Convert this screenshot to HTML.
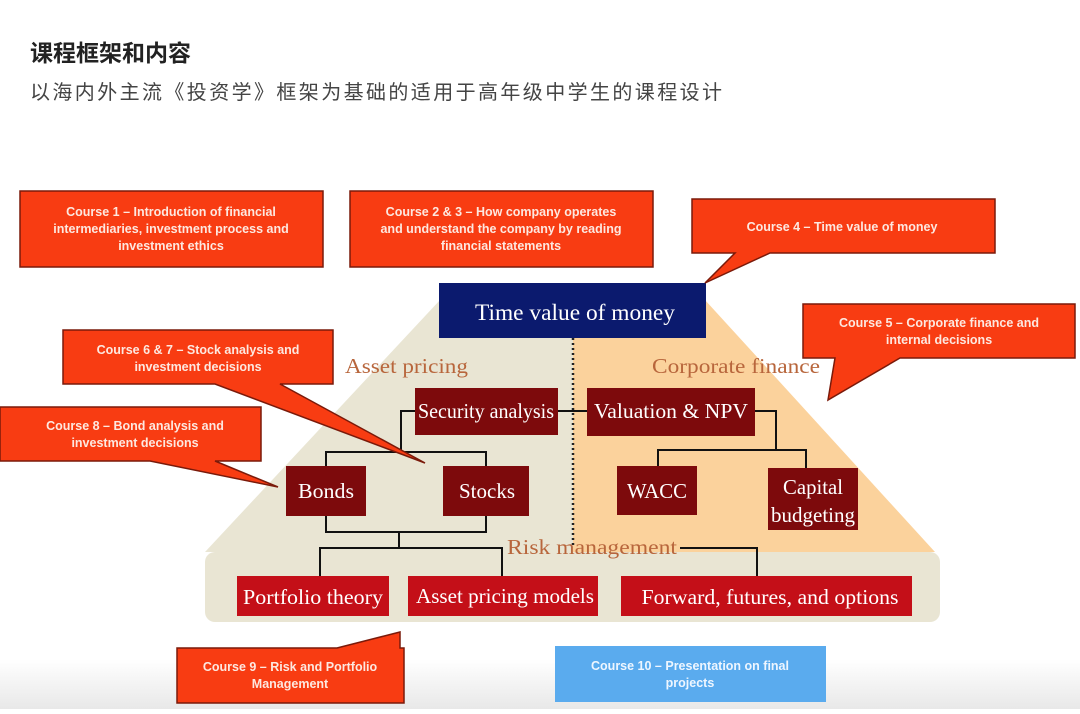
<!DOCTYPE html>
<html><head><meta charset="utf-8"><style>
body{margin:0;width:1080px;height:709px;background:#fff;overflow:hidden}
</style></head><body>
<svg width="1080" height="709" viewBox="0 0 1080 709" xmlns="http://www.w3.org/2000/svg">
<defs><linearGradient id="bg" x1="0" y1="0" x2="0" y2="1"><stop offset="0.93" stop-color="#fff"/><stop offset="1" stop-color="#e8e8e8"/></linearGradient></defs>
<rect width="1080" height="709" fill="url(#bg)"/>
<text x="30" y="61" font-family="Liberation Sans, Noto Sans CJK SC, sans-serif" font-size="23" font-weight="bold" fill="#222">课程框架和内容</text>
<text x="30" y="99" font-family="Liberation Sans, Noto Sans CJK SC, sans-serif" font-size="20" fill="#444" textLength="692" lengthAdjust="spacing">以海内外主流《投资学》框架为基础的适用于高年级中学生的课程设计</text>

<polygon points="440,300 573,300 573,552 205,552" fill="#e9e5d3"/>
<polygon points="573,300 705,300 935,552 573,552" fill="#fbd29c"/>
<rect x="205" y="552" width="735" height="70" rx="10" fill="#e9e5d3"/>
<line x1="573" y1="338" x2="573" y2="548" stroke="#222" stroke-width="2.5" stroke-dasharray="2,3"/>

<rect x="439" y="283" width="267" height="55" fill="#0b1a6e"/>
<text x="575" y="320" text-anchor="middle" font-family="Liberation Serif, serif" font-size="23" fill="#fff" textLength="200" lengthAdjust="spacingAndGlyphs">Time value of money</text>

<g font-family="Liberation Serif, serif" font-size="21" fill="#b8663c">
<text x="345" y="373" textLength="123" lengthAdjust="spacingAndGlyphs">Asset pricing</text>
<text x="652" y="373" textLength="168" lengthAdjust="spacingAndGlyphs">Corporate finance</text>
<text x="507" y="554" textLength="170" lengthAdjust="spacingAndGlyphs">Risk management</text>
</g>

<g stroke="#111" stroke-width="2" fill="none">
<polyline points="415,411 401,411 401,452"/>
<polyline points="326,466 326,452 486,452 486,466"/>
<line x1="558" y1="411" x2="587" y2="411"/>
<polyline points="755,411 776,411 776,450"/>
<polyline points="658,466 658,450 806,450 806,468"/>
<polyline points="326,516 326,532 486,532 486,516"/>
<polyline points="399,532 399,548"/>
<polyline points="320,576 320,548 502,548 502,576"/>
<polyline points="680,548 757,548 757,576"/>
</g>

<g fill="#7d0a0c">
<rect x="415" y="388" width="143" height="47"/>
<rect x="587" y="388" width="168" height="48"/>
<rect x="286" y="466" width="80" height="50"/>
<rect x="443" y="466" width="86" height="50"/>
<rect x="617" y="466" width="80" height="49"/>
<rect x="768" y="468" width="90" height="62"/>
</g>
<g fill="#c40f18">
<rect x="237" y="576" width="152" height="40"/>
<rect x="408" y="576" width="190" height="40"/>
<rect x="621" y="576" width="291" height="40"/>
</g>
<g font-family="Liberation Serif, serif" font-size="21" fill="#fff" text-anchor="middle">
<text x="486" y="418" textLength="136" lengthAdjust="spacingAndGlyphs">Security analysis</text>
<text x="671" y="418" textLength="154" lengthAdjust="spacingAndGlyphs">Valuation &amp; NPV</text>
<text x="326" y="498" textLength="56" lengthAdjust="spacingAndGlyphs">Bonds</text>
<text x="487" y="498" textLength="56" lengthAdjust="spacingAndGlyphs">Stocks</text>
<text x="657" y="498" textLength="60" lengthAdjust="spacingAndGlyphs">WACC</text>
<text x="813" y="494" textLength="60" lengthAdjust="spacingAndGlyphs">Capital</text>
<text x="813" y="522" textLength="84" lengthAdjust="spacingAndGlyphs">budgeting</text>
<text x="313" y="604" textLength="140" lengthAdjust="spacingAndGlyphs">Portfolio theory</text>
<text x="505" y="603" textLength="178" lengthAdjust="spacingAndGlyphs">Asset pricing models</text>
<text x="770" y="604" textLength="257" lengthAdjust="spacingAndGlyphs">Forward, futures, and options</text>
</g>

<g fill="#f83c12" stroke="#7a1a0a" stroke-width="1.5">
<rect x="20" y="191" width="303" height="76"/>
<rect x="350" y="191" width="303" height="76"/>
<polygon points="692,199 995,199 995,253 770,253 705,283 735,253 692,253"/>
<polygon points="803,304 1075,304 1075,358 900,358 828,400 835,358 803,358"/>
<polygon points="63,330 333,330 333,384 280,384 425,463 215,384 63,384"/>
<polygon points="0,407 261,407 261,461 215,461 278,487 150,461 0,461"/>
<polygon points="177,648 337,648 400,632 400,648 404,648 404,703 177,703"/>
</g>
<rect x="555" y="646" width="271" height="56" fill="#5aabee"/>
<g font-family="Liberation Sans, sans-serif" font-size="12.5" font-weight="bold" fill="#fde8e0" text-anchor="middle">
<text x="171" y="216">Course 1 – Introduction of financial</text>
<text x="171" y="233">intermediaries, investment process and</text>
<text x="171" y="250">investment ethics</text>
<text x="501" y="216">Course 2 &amp; 3 – How company operates</text>
<text x="501" y="233">and understand the company by reading</text>
<text x="501" y="250">financial statements</text>
<text x="842" y="231">Course 4 – Time value of money</text>
<text x="939" y="327">Course 5 – Corporate finance and</text>
<text x="939" y="344">internal decisions</text>
<text x="198" y="354">Course 6 &amp; 7 – Stock analysis and</text>
<text x="198" y="371">investment decisions</text>
<text x="135" y="430">Course 8 – Bond analysis and</text>
<text x="135" y="447">investment decisions</text>
<text x="290" y="671">Course 9 – Risk and Portfolio</text>
<text x="290" y="688">Management</text>
<text x="690" y="670" fill="#eef6ff">Course 10 – Presentation on final</text>
<text x="690" y="687" fill="#eef6ff">projects</text>
</g>
</svg>
</body></html>
